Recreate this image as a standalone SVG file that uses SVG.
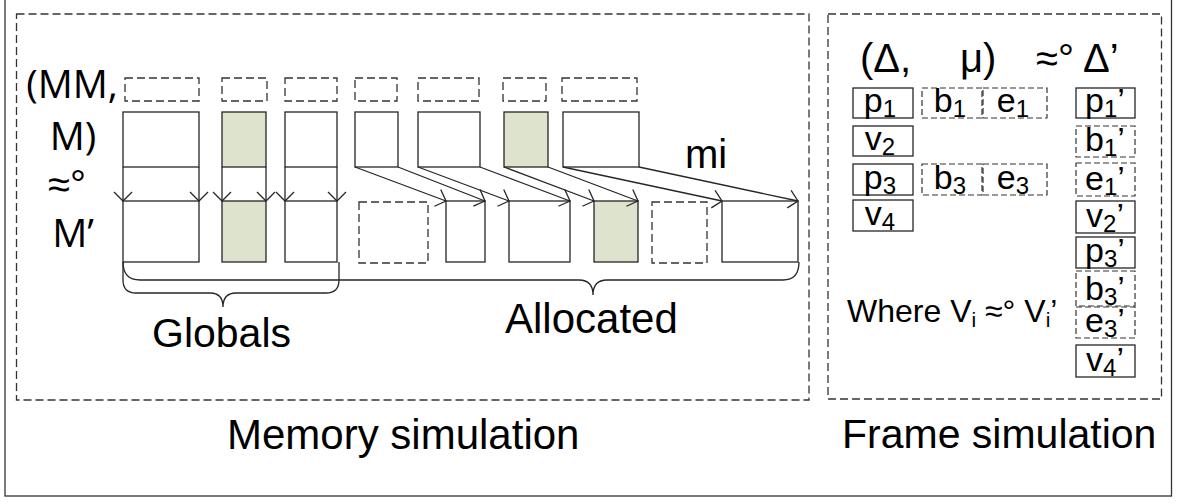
<svg xmlns="http://www.w3.org/2000/svg" width="1178" height="503" viewBox="0 0 1178 503">
  <style>
    .solid { fill: #ffffff; stroke: #262626; stroke-width: 1.3; }
    .shade { fill: #dde3cc; stroke: #262626; stroke-width: 1.3; }
    .dash { fill: none; stroke: #333333; stroke-width: 1.3; stroke-dasharray: 8 4; }
    .dashs { fill: none; stroke: #333333; stroke-width: 1.2; stroke-dasharray: 6 3; }
    .panel { fill: none; stroke: #333333; stroke-width: 1.3; stroke-dasharray: 8 4; }
    .conn { fill: none; stroke: #262626; stroke-width: 1.3; marker-end: url(#vhead); }
    .brace { fill: none; stroke: #262626; stroke-width: 1.3; }
    .t { font-family: "Liberation Sans", Arial, sans-serif; fill: #000000; }
    .c { font-family: "Open Sans", "Noto Sans", sans-serif; fill: #000000; }
    .lbl { font-family: "Liberation Sans", Arial, sans-serif; font-size: 34px; fill: #000000; text-anchor: middle; }
    .sub { font-size: 24px; }
  </style>
  <defs>
    <marker id="vhead" viewBox="-12 -12 14 24" refX="0" refY="0" markerWidth="14" markerHeight="24" markerUnits="userSpaceOnUse" orient="auto" overflow="visible">
      <path d="M-9,-9 L0,0 L-9,9" fill="none" stroke="#262626" stroke-width="1.3"/>
    </marker>
  </defs>

  <rect width="1178" height="503" fill="#ffffff"/>

  <!-- outer frame -->
  <rect x="5" y="-2" width="1166.5" height="498" fill="none" stroke="#333333" stroke-width="1.3"/>

  <!-- panels -->
  <g id="memory-panel">
    <rect class="panel" x="16.5" y="14" width="792.5" height="386"/>
    <text class="t" x="227" y="449" font-size="42">Memory simulation</text>
  </g>
  <g id="frame-panel">
    <rect class="panel" x="828" y="14" width="333.5" height="385"/>
    <text class="t" x="842" y="448" font-size="41">Frame simulation</text>
  </g>

  <!-- left relation label -->
  <g id="mem-relation">
    <text class="c" x="72" y="98" font-size="39" text-anchor="middle">(MM,</text>
    <text class="c" x="73" y="150" font-size="39" text-anchor="middle">M)</text>
    <text class="t" x="48" y="198" font-size="40">≈°</text>
    <text class="c" x="73" y="247" font-size="39" text-anchor="middle">M’</text>
  </g>

  <!-- permission / metadata row (dashed) -->
  <g id="meta-row">
    <rect class="dash" x="125" y="78" width="74" height="23"/>
    <rect class="dash" x="222" y="78" width="45" height="23"/>
    <rect class="dash" x="285" y="78" width="52" height="23"/>
    <rect class="dash" x="355" y="78" width="42" height="23"/>
    <rect class="dash" x="418" y="78" width="61" height="23"/>
    <rect class="dash" x="503" y="78" width="43" height="23"/>
    <rect class="dash" x="562" y="78" width="75" height="23"/>
  </g>

  <!-- source memory blocks -->
  <g id="src-blocks">
    <rect class="solid" x="123" y="112" width="76" height="55"/>
    <rect class="shade" x="222" y="112" width="44" height="55"/>
    <rect class="solid" x="285" y="112" width="52" height="55"/>
    <rect class="solid" x="355" y="112" width="43" height="55"/>
    <rect class="solid" x="418" y="112" width="62" height="55"/>
    <rect class="shade" x="504" y="112" width="44" height="55"/>
    <rect class="solid" x="563" y="112" width="76" height="55"/>
  </g>

  <!-- target memory blocks -->
  <g id="tgt-blocks">
    <rect class="solid" x="123" y="201" width="76" height="61"/>
    <rect class="shade" x="222" y="201" width="44" height="61"/>
    <rect class="solid" x="285" y="201" width="52" height="61"/>
    <rect class="dash" x="359" y="202" width="69" height="61"/>
    <rect class="solid" x="446" y="201" width="39" height="61"/>
    <rect class="solid" x="509" y="201" width="61" height="61"/>
    <rect class="shade" x="594" y="201" width="44" height="61"/>
    <rect class="dash" x="652" y="202" width="55" height="61"/>
    <rect class="solid" x="722" y="201" width="76" height="61"/>
  </g>

  <!-- injection arrows -->
  <g id="connectors">
    <path class="conn" d="M123,167 L123,201"/>
    <path class="conn" d="M199,167 L199,201"/>
    <path class="conn" d="M222,167 L222,201"/>
    <path class="conn" d="M266,167 L266,201"/>
    <path class="conn" d="M285,167 L285,201"/>
    <path class="conn" d="M337,167 L337,201"/>
    <path class="conn" d="M355,167 L446,201"/>
    <path class="conn" d="M398,167 L485,201"/>
    <path class="conn" d="M418,167 L509,201"/>
    <path class="conn" d="M480,167 L570,201"/>
    <path class="conn" d="M504,167 L594,201"/>
    <path class="conn" d="M548,167 L638,201"/>
    <path class="conn" d="M563,167 L722,201"/>
    <path class="conn" d="M639,167 L798,201"/>
  </g>
  <text id="mi-label" class="t" x="685" y="168" font-size="40">mi</text>

  <!-- braces -->
  <g id="globals">
    <path class="brace" d="M123,262 L123,280 Q123,293 136,293 L210,293 Q223,293 223,307 Q223,293 236,293 L326,293 Q339,293 339,280 L339,262"/>
    <text class="t" x="152" y="347" font-size="41">Globals</text>
  </g>
  <g id="allocated">
    <path class="brace" d="M123,262 Q123,280 140,280 L579,280 Q593,280 593,295 Q593,280 607,280 L783,280 Q799,280 799,262"/>
    <text class="t" x="505" y="333" font-size="42">Allocated</text>
  </g>

  <!-- frame simulation content -->
  <g id="frame-relation">
    <text class="t" font-size="40" y="72"><tspan x="860">(Δ,</tspan><tspan x="960">μ)</tspan><tspan x="1036">≈°</tspan><tspan x="1083">Δ’</tspan></text>
  </g>

  <g id="src-frame">
    <rect class="solid" x="853" y="88" width="60" height="30"/>
    <text class="lbl" x="880" y="112">p<tspan class="sub" dy="5">1</tspan></text>
    <rect class="solid" x="853" y="126" width="60" height="30"/>
    <text class="lbl" x="880" y="150">v<tspan class="sub" dy="5">2</tspan></text>
    <rect class="solid" x="853" y="164" width="60" height="31"/>
    <text class="lbl" x="880" y="189">p<tspan class="sub" dy="5">3</tspan></text>
    <rect class="solid" x="853" y="200" width="60" height="31"/>
    <text class="lbl" x="880" y="225">v<tspan class="sub" dy="5">4</tspan></text>
  </g>

  <g id="src-bounds">
    <rect class="dashs" x="922" y="88" width="60" height="30"/>
    <text class="lbl" x="950" y="112">b<tspan class="sub" dy="5">1</tspan></text>
    <rect class="dashs" x="983" y="88" width="64" height="30"/>
    <text class="lbl" x="1013" y="112">e<tspan class="sub" dy="5">1</tspan></text>
    <rect class="dashs" x="922" y="164" width="60" height="31"/>
    <text class="lbl" x="950" y="189">b<tspan class="sub" dy="5">3</tspan></text>
    <rect class="dashs" x="983" y="164" width="64" height="31"/>
    <text class="lbl" x="1013" y="189">e<tspan class="sub" dy="5">3</tspan></text>
  </g>

  <g id="tgt-frame">
    <rect class="solid" x="1076" y="88" width="59" height="30"/>
    <text class="lbl" x="1105" y="112">p<tspan class="sub" dy="5">1</tspan><tspan dy="-5">’</tspan></text>
    <rect class="dashs" x="1076" y="126" width="59" height="31"/>
    <text class="lbl" x="1105" y="151">b<tspan class="sub" dy="5">1</tspan><tspan dy="-5">’</tspan></text>
    <rect class="dashs" x="1076" y="163" width="59" height="33"/>
    <text class="lbl" x="1105" y="190">e<tspan class="sub" dy="5">1</tspan><tspan dy="-5">’</tspan></text>
    <rect class="solid" x="1076" y="201" width="59" height="32"/>
    <text class="lbl" x="1105" y="227">v<tspan class="sub" dy="5">2</tspan><tspan dy="-5">’</tspan></text>
    <rect class="solid" x="1076" y="237" width="59" height="31"/>
    <text class="lbl" x="1105" y="262">p<tspan class="sub" dy="5">3</tspan><tspan dy="-5">’</tspan></text>
    <rect class="dashs" x="1076" y="271" width="59" height="35"/>
    <text class="lbl" x="1105" y="300">b<tspan class="sub" dy="5">3</tspan><tspan dy="-5">’</tspan></text>
    <rect class="dashs" x="1076" y="307" width="59" height="31"/>
    <text class="lbl" x="1105" y="332">e<tspan class="sub" dy="5">3</tspan><tspan dy="-5">’</tspan></text>
    <rect class="solid" x="1076" y="345" width="59" height="32"/>
    <text class="lbl" x="1105" y="371">v<tspan class="sub" dy="5">4</tspan><tspan dy="-5">’</tspan></text>
  </g>

  <text id="where-note" class="t" x="847" y="322" font-size="32">Where V<tspan font-size="21" dy="5">i</tspan><tspan dy="-5"> ≈°</tspan><tspan> V</tspan><tspan font-size="21" dy="5">i</tspan><tspan dy="-5">’</tspan></text>
</svg>
